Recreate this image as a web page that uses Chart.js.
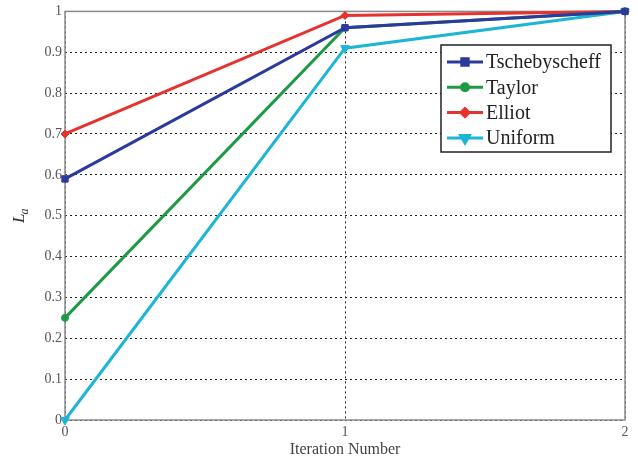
<!DOCTYPE html>
<html><head><meta charset="utf-8">
<script src="https://cdn.jsdelivr.net/npm/chart.js@4"></script>
<style>html,body{margin:0;padding:0;background:#fff}#wrap{width:638px;height:463px}</style>
</head><body><div id="wrap"><canvas id="c" width="638" height="463"></canvas></div>
<script>
const iterations = ["0", "1", "2"];
const tschebyscheff = [0.59, 0.96, 1.0];
const taylor = [0.25, 0.96, 1.0];
const elliot = [0.70, 0.99, 1.0];
const uniform = [0.0, 0.91, 1.0];
const seriesNames = ["Tschebyscheff", "Taylor", "Elliot", "Uniform"];
const xTitle = "Iteration Number";

const SERIF = '"Liberation Serif", "Times New Roman", serif';

const framePlugin = {
  id: 'frame',
  beforeDatasetsDraw(chart) {
    const {ctx, chartArea: a} = chart;
    ctx.save();
    ctx.strokeStyle = '#8a8a8a';
    ctx.lineWidth = 1.5;
    ctx.strokeRect(a.left, a.top, a.right - a.left, a.bottom - a.top);
    ctx.restore();
  },
  afterDraw(chart) {
    const ctx = chart.ctx;
    // y title L_a
    ctx.save();
    ctx.translate(24, 216);
    ctx.rotate(-Math.PI / 2);
    ctx.fillStyle = '#333';
    ctx.textBaseline = 'alphabetic';
    ctx.font = 'italic 17px ' + SERIF;
    ctx.fillText('L', -7, 0);
    const w = ctx.measureText('L').width;
    ctx.font = 'italic 12px ' + SERIF;
    ctx.fillText('a', -7 + w - 1, 4);
    ctx.restore();
    // legend
    const bx = 441, by = 45, bw = 170, bh = 107;
    ctx.save();
    ctx.fillStyle = '#fff';
    ctx.fillRect(bx, by, bw, bh);
    ctx.strokeStyle = '#222';
    ctx.lineWidth = 1.5;
    ctx.strokeRect(bx, by, bw, bh);
    chart.data.datasets.forEach((ds, i) => {
      const y = 62 + i * 25.3;
      ctx.strokeStyle = ds.borderColor;
      ctx.lineWidth = 3;
      ctx.beginPath();
      ctx.moveTo(447, y);
      ctx.lineTo(483, y);
      ctx.stroke();
      Chart.helpers.drawPoint(ctx, {
        pointStyle: ds.pointStyle, radius: ds.pointRadius, rotation: ds.pointRotation || 0, borderWidth: 1
      }, 465, y);
      ctx.fillStyle = ds.pointBackgroundColor;
      ctx.strokeStyle = ds.borderColor;
      ctx.fill();
      ctx.fillStyle = '#222';
      ctx.font = '20px ' + SERIF;
      ctx.textBaseline = 'middle';
      ctx.fillText(ds.label, 486, y + 1);
    });
    ctx.restore();
  }
};

function mk(label, data, color, style, radius, rot) {
  return {
    label, data, borderColor: color, backgroundColor: color,
    pointBackgroundColor: color, pointBorderColor: color,
    pointStyle: style, pointRadius: radius, pointRotation: rot || 0,
    borderWidth: 3, pointBorderWidth: 1, tension: 0, clip: false
  };
}

new Chart(document.getElementById('c'), {
  type: 'line',
  data: {
    labels: iterations,
    datasets: [
      mk(seriesNames[0], tschebyscheff, '#2b3a9e', 'rect', 4.5),
      mk(seriesNames[1], taylor, '#1f9a44', 'circle', 3.5),
      mk(seriesNames[2], elliot, '#e6322e', 'rectRot', 4),
      mk(seriesNames[3], uniform, '#1db5d6', 'triangle', 5, 180)
    ]
  },
  options: {
    responsive: false,
    animation: false,
    layout: {padding: {top: 8, right: 13, left: 0, bottom: 0}},
    plugins: {legend: {display: false}, tooltip: {enabled: false}},
    scales: {
      x: {
        type: 'category', offset: false,
        grid: {color: '#222', drawTicks: false, lineWidth: 1},
        border: {display: false, dash: [2, 3]},
        ticks: {color: '#555', font: {family: SERIF, size: 14}, padding: 4, maxRotation: 0},
        title: {display: true, text: xTitle, color: '#444', font: {family: SERIF, size: 16}, padding: {top: 0, bottom: 4}},
        afterFit(s) { s.height = 43; }
      },
      y: {
        min: 0, max: 1,
        ticks: {stepSize: 0.1, color: '#555', font: {family: SERIF, size: 14}, padding: 3,
          callback: v => String(Math.round(v * 10) / 10)},
        grid: {color: '#222', drawTicks: false, lineWidth: 1},
        border: {display: false, dash: [2, 3]},
        afterFit(s) { s.width = 65; }
      }
    }
  },
  plugins: [framePlugin]
});
</script>
</body></html>
